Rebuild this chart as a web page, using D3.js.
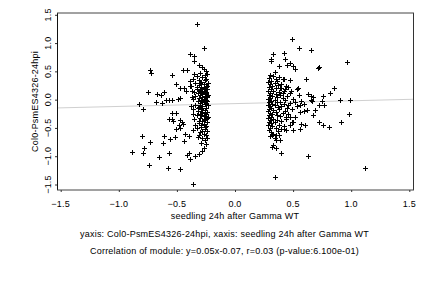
<!DOCTYPE html>
<html>
<head>
<meta charset="utf-8">
<script src="https://cdn.jsdelivr.net/npm/d3@7"></script>
<style>
  body { margin: 0; background: #fff; }
  svg { display: block; font-family: "Liberation Sans", Arial, sans-serif; }
  text { letter-spacing: 0.22px; }
</style>
</head>
<body>
<svg id="chart" width="432" height="288"></svg>
<script>
// tick values on both axes
const xTicks = [-1.5, -1.0, -0.5, 0.0, 0.5, 1.0, 1.5];
const yTicks = [-1.5, -1.0, -0.5, 0.0, 0.5, 1.0, 1.5];

// fitted line of the module: y = slope * x + intercept
const fitSlope = 0.05;
const fitIntercept = -0.07;

const xTitle = "seedling 24h after Gamma WT";
const yTitle = "Col0-PsmES4326-24hpi";
const captions = [
  "yaxis: Col0-PsmES4326-24hpi, xaxis: seedling 24h after Gamma WT",
  "Correlation of module: y=0.05x-0.07, r=0.03 (p-value:6.100e-01)"
];

// genes in the left group (x < 0), [x, y]
const leftGenes = [
  [-0.33,1.33],[-0.39,0.80],[-0.35,0.77],[-0.35,0.69],[-0.27,0.92],[-0.73,0.52],[-0.72,0.47],
  [-0.54,0.43],[-0.45,0.52],[-0.41,0.53],[-0.28,0.58],[-0.75,0.14],[-0.83,-0.07],[-0.79,-0.17],
  [-0.67,0.10],[-0.64,0.09],[-0.61,0.14],[-0.68,-0.04],[-0.63,-0.06],[-0.59,-0.01],[-0.57,-0.01],
  [-0.54,0.00],[-0.49,0.01],[-0.47,0.03],[-0.51,0.27],[-0.47,0.20],[-0.44,0.21],[-0.42,0.15],
  [-0.39,0.24],[-0.37,0.15],[-0.54,-0.23],[-0.51,-0.24],[-0.57,-0.34],[-0.54,-0.34],[-0.53,-0.37],
  [-0.47,-0.36],[-0.48,-0.44],[-0.51,-0.52],[-0.46,-0.40],[-0.80,-0.64],[-0.78,-0.85],[-0.79,-0.94],
  [-0.73,-0.74],[-0.61,-0.64],[-0.62,-0.77],[-0.56,-0.69],[-0.52,-0.66],[-0.65,-1.01],[-0.57,-0.95],
  [-0.89,-0.93],[-0.74,-1.15],[-0.58,-1.20],[-0.47,-1.23],[-0.40,-0.94],[-0.39,-1.05],[-0.34,-0.99],
  [-0.31,-0.96],[-0.36,-1.49],[-0.44,-0.73],[-0.41,-0.98],[-0.40,-0.65],[-0.36,-0.53],[-0.43,-0.60],
  [-0.45,-0.43],[-0.47,-0.50],
  [-0.31,0.62],[-0.27,0.55],[-0.25,0.50],[-0.30,0.47],[-0.24,0.45],[-0.33,0.41],[-0.28,0.40],
  [-0.26,0.43],[-0.36,0.37],[-0.31,0.35],[-0.25,0.36],[-0.29,0.32],[-0.23,0.30],[-0.34,0.30],
  [-0.27,0.28],[-0.31,0.26],[-0.24,0.25],[-0.38,0.24],[-0.29,0.22],[-0.26,0.21],[-0.33,0.19],
  [-0.24,0.18],[-0.30,0.17],[-0.27,0.15],[-0.35,0.14],[-0.25,0.13],[-0.32,0.11],[-0.28,0.10],
  [-0.23,0.09],[-0.30,0.08],[-0.26,0.07],[-0.34,0.06],[-0.28,0.05],[-0.24,0.04],[-0.31,0.03],
  [-0.27,0.02],[-0.36,0.01],[-0.25,0.00],[-0.29,-0.01],[-0.32,-0.03],[-0.24,-0.03],[-0.27,-0.05],
  [-0.30,-0.06],[-0.26,-0.08],[-0.34,-0.09],[-0.23,-0.10],[-0.28,-0.11],[-0.31,-0.13],[-0.25,-0.14],
  [-0.29,-0.16],[-0.36,-0.17],[-0.26,-0.18],[-0.32,-0.20],[-0.24,-0.21],[-0.28,-0.22],[-0.30,-0.25],
  [-0.25,-0.26],[-0.33,-0.27],[-0.27,-0.29],[-0.23,-0.30],[-0.30,-0.32],[-0.26,-0.34],[-0.35,-0.35],
  [-0.28,-0.37],[-0.24,-0.39],[-0.31,-0.41],[-0.27,-0.43],[-0.25,-0.46],[-0.29,-0.48],[-0.33,-0.50],
  [-0.26,-0.52],[-0.24,-0.55],[-0.30,-0.57],[-0.27,-0.60],[-0.25,-0.63],[-0.32,-0.66],[-0.28,-0.68],
  [-0.26,-0.72],[-0.29,-0.76],[-0.25,-0.79],[-0.27,-0.85],[-0.28,-0.90],
  [-0.30,0.29],[-0.26,0.34],[-0.28,0.19],[-0.25,0.22],[-0.33,0.23],[-0.29,0.13],[-0.26,0.11],
  [-0.31,0.16],[-0.24,0.07],[-0.27,-0.02],[-0.30,-0.09],[-0.25,-0.07],[-0.28,-0.14],[-0.32,-0.15],
  [-0.26,-0.23],[-0.29,-0.27],[-0.24,-0.33],[-0.27,-0.36],[-0.31,-0.38],[-0.29,-0.44],[-0.26,-0.48],
  [-0.28,-0.55],[-0.31,-0.62],[-0.24,-0.68],[-0.37,0.05],[-0.38,-0.12],[-0.36,-0.26],[-0.39,0.33],
  [-0.35,0.45],[-0.34,-0.44]
];

// genes in the right group (x > 0), [x, y]
const rightGenes = [
  [0.49,1.07],[0.55,0.91],[0.65,0.87],[0.33,0.81],[0.42,0.83],[0.31,0.72],[0.31,0.68],[0.43,0.71],
  [0.38,0.60],[0.45,0.62],[0.47,0.65],[0.50,0.59],[0.52,0.55],[0.71,0.56],[0.72,0.57],[0.96,0.67],
  [0.34,0.48],[0.38,0.40],[0.41,0.36],[0.42,0.37],[0.47,0.34],[0.61,0.36],[0.40,0.21],[0.43,0.19],
  [0.46,0.23],[0.53,0.19],[0.54,0.20],[0.63,0.10],[0.65,0.06],[0.67,0.05],[0.76,0.06],[0.75,-0.02],
  [0.82,0.12],[0.85,0.21],[0.90,0.00],[0.99,0.00],[0.72,-0.09],[0.69,-0.19],[0.77,-0.10],[0.67,-0.28],
  [0.98,-0.25],[0.91,-0.39],[0.72,-0.40],[0.76,-0.45],[0.81,-0.49],[0.60,-0.44],[0.57,-0.43],
  [0.56,-0.52],[0.50,-0.53],[0.44,-0.53],[0.42,-0.52],[0.49,-0.39],[0.47,-0.44],[0.44,-0.31],
  [0.47,-0.31],[0.56,-0.21],[0.59,-0.20],[0.62,-0.18],[0.53,-0.12],[0.56,-0.09],[0.59,-0.07],
  [0.65,0.00],[0.66,-0.03],[0.34,-0.68],[0.39,-0.72],[0.35,-0.72],[0.32,-0.83],[0.33,-0.80],
  [0.35,-0.86],[0.40,-0.95],[0.63,-0.99],[1.12,-1.21],[0.34,-1.37],[0.32,-0.62],[0.35,-0.62],
  [0.30,0.44],[0.33,0.41],[0.29,0.38],[0.35,0.36],[0.31,0.33],[0.28,0.31],[0.34,0.30],[0.30,0.27],
  [0.37,0.26],[0.32,0.24],[0.29,0.22],[0.35,0.20],[0.31,0.18],[0.28,0.16],[0.33,0.15],[0.38,0.14],
  [0.30,0.12],[0.35,0.10],[0.29,0.08],[0.32,0.07],[0.36,0.05],[0.30,0.03],[0.28,0.02],[0.34,0.00],
  [0.31,-0.02],[0.29,-0.04],[0.36,-0.05],[0.32,-0.07],[0.28,-0.09],[0.34,-0.10],[0.30,-0.12],
  [0.37,-0.13],[0.31,-0.15],[0.29,-0.17],[0.33,-0.18],[0.28,-0.20],[0.35,-0.21],[0.30,-0.23],
  [0.32,-0.25],[0.29,-0.27],[0.36,-0.28],[0.31,-0.30],[0.28,-0.32],[0.33,-0.34],[0.30,-0.36],
  [0.29,-0.39],[0.34,-0.40],[0.31,-0.42],[0.28,-0.45],[0.32,-0.47],[0.30,-0.50],[0.35,-0.51],
  [0.29,-0.54],[0.31,-0.57],[0.33,-0.60],[0.30,-0.65],
  [0.40,0.28],[0.44,0.25],[0.42,0.15],[0.47,0.12],[0.39,0.09],[0.45,0.06],[0.41,0.03],[0.50,0.02],
  [0.43,-0.01],[0.39,-0.04],[0.47,-0.06],[0.42,-0.08],[0.52,-0.05],[0.40,-0.11],[0.45,-0.14],
  [0.38,-0.16],[0.49,-0.17],[0.43,-0.20],[0.41,-0.24],[0.46,-0.26],[0.39,-0.29],[0.52,-0.30],
  [0.44,-0.35],[0.40,-0.38],[0.38,-0.45],[0.42,-0.47],[0.55,0.08],[0.48,0.15],[0.57,-0.02],
  [0.39,0.20],[0.37,-0.55],[0.38,-0.62],[0.36,0.33],[0.41,0.12],[0.46,-0.10],[0.50,-0.40],
  [0.36,-0.36],[0.40,-0.52]
];

const svg = d3.select("#chart");

// plot box (pixels) and scales inside it
const box = { left: 57, right: 413, top: 13, bottom: 190 };
const x = d3.scaleLinear().domain([-1.5, 1.5]).range([60.7, 409.3]);
const y = d3.scaleLinear().domain([-1.5, 1.5]).range([184.5, 14.8]);

// regression line across the whole box
const x0 = x.invert(box.left), x1 = x.invert(box.right);
svg.append("line")
  .attr("x1", box.left).attr("x2", box.right)
  .attr("y1", y(fitSlope * x0 + fitIntercept))
  .attr("y2", y(fitSlope * x1 + fitIntercept))
  .attr("stroke", "#d0d0d0")
  .attr("stroke-width", 1);

// points as "+" markers
const cross = "M-2.5,0H2.5M0,-2.5V2.5";
const pts = svg.append("g").attr("stroke", "#000").attr("stroke-width", 1).attr("fill", "none");
pts.selectAll("path")
  .data(leftGenes.concat(rightGenes))
  .enter()
  .append("path")
  .attr("d", cross)
  .attr("transform", d => "translate(" + (Math.round(x(d[0])) + 0.5) + "," + (Math.round(y(d[1])) + 0.5) + ")");

// box: vertical sides crisp, horizontal sides a bit soft like the original
svg.append("line").attr("x1", box.left + 0.5).attr("x2", box.left + 0.5)
  .attr("y1", box.top).attr("y2", box.bottom).attr("stroke", "#111");
svg.append("line").attr("x1", box.right + 0.5).attr("x2", box.right + 0.5)
  .attr("y1", box.top).attr("y2", box.bottom).attr("stroke", "#333");
svg.append("line").attr("x1", box.left).attr("x2", box.right + 1)
  .attr("y1", box.top).attr("y2", box.top).attr("stroke", "#444");
svg.append("line").attr("x1", box.left).attr("x2", box.right + 1)
  .attr("y1", box.bottom).attr("y2", box.bottom).attr("stroke", "#444");

// axes: short outward ticks, labels drawn separately
const xAxis = svg.append("g")
  .attr("transform", "translate(0," + box.bottom + ")")
  .call(d3.axisBottom(x).tickValues(xTicks).tickSize(2).tickFormat(""));
xAxis.select(".domain").remove();
xAxis.selectAll("line").attr("stroke", "#333");

const yAxis = svg.append("g")
  .attr("transform", "translate(" + box.left + ",0)")
  .call(d3.axisLeft(y).tickValues(yTicks).tickSize(2).tickFormat(""));
yAxis.select(".domain").remove();
yAxis.selectAll("line").attr("stroke", "#333");

const fmt = d3.format(".1f");
const fontSize = 9;

svg.append("g").selectAll("text")
  .data(xTicks)
  .enter()
  .append("text")
  .attr("x", d => x(d))
  .attr("y", 206.5)
  .attr("text-anchor", "middle")
  .attr("font-size", fontSize)
  .text(d => fmt(d));

svg.append("g").selectAll("text")
  .data(yTicks)
  .enter()
  .append("text")
  .attr("transform", d => "translate(51," + y(d) + ") rotate(-90)")
  .attr("text-anchor", "middle")
  .attr("font-size", fontSize)
  .text(d => fmt(d));

svg.append("text")
  .attr("x", (box.left + box.right) / 2)
  .attr("y", 219)
  .attr("text-anchor", "middle")
  .attr("font-size", fontSize)
  .text(xTitle);

svg.append("text")
  .attr("transform", "translate(38," + ((box.top + box.bottom) / 2) + ") rotate(-90)")
  .attr("text-anchor", "middle")
  .attr("font-size", fontSize)
  .text(yTitle);

svg.append("g").selectAll("text")
  .data(captions)
  .enter()
  .append("text")
  .attr("x", 224.5)
  .attr("y", (d, i) => 236.5 + i * 17)
  .attr("text-anchor", "middle")
  .attr("font-size", fontSize)
  .text(d => d);
</script>
</body>
</html>
